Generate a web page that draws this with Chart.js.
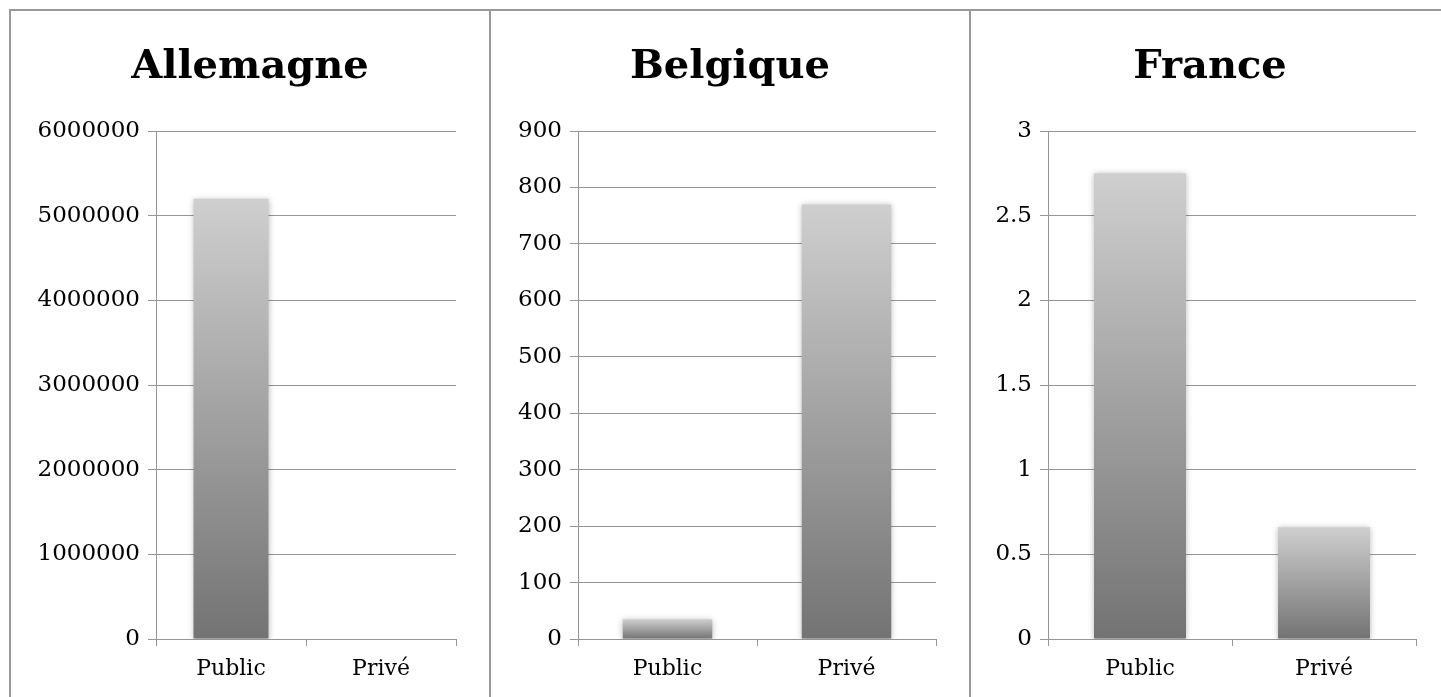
<!DOCTYPE html>
<html>
<head>
<meta charset="utf-8">
<script src="https://cdn.jsdelivr.net/npm/chart.js@4/dist/chart.umd.min.js"></script>
<style>
  html, body { margin: 0; padding: 0; background: #fff; overflow: hidden; }
  body { width: 1441px; height: 697px; position: relative; }
  .panel {
    position: absolute;
    top: 9px;
    width: 478px;
    height: 688px;
    border-left: 2px solid #999;
    border-top: 2px solid #999;
  }
  .panel canvas { display: block; }
</style>
</head>
<body>
<div class="panel" style="left:9px"><canvas id="c0"></canvas></div>
<div class="panel" style="left:489px"><canvas id="c1"></canvas></div>
<div class="panel" style="left:969px"><canvas id="c2"></canvas></div>

<script>
/* ================================
   Data
================================ */
const categories = ["Public", "Privé"];
const countries = ["Allemagne", "Belgique", "France"];

const allemagneValues = [5200000, 0];
const belgiqueValues = [35, 770];
const franceValues = [2.75, 0.66];

const yMax = [6000000, 900, 3];
const yStep = [1000000, 100, 0.5];

// left axis widths so the three plot areas line up like the sheet
const axisWidth = [145, 87, 77];

/* ================================
   Helpers
================================ */
const FONT = "'DejaVu Serif', serif";
const GRID = "#959595";

function barFill(context) {
  const chart = context.chart;
  if (!chart.chartArea || context.type !== "data") return "#999";
  const y = chart.scales.y;
  const top = y.getPixelForValue(context.parsed.y);
  const base = y.getPixelForValue(0);
  if (!isFinite(top) || Math.abs(base - top) < 1) return "#999";
  const g = chart.ctx.createLinearGradient(0, top, 0, base);
  g.addColorStop(0, "#cfcfcf");
  g.addColorStop(1, "#737373");
  return g;
}

// soft shadow round the bars
const barShadow = {
  id: "barShadow",
  beforeDatasetsDraw(chart) {
    const c = chart.ctx;
    c.save();
    c.shadowColor = "rgba(0,0,0,0.28)";
    c.shadowBlur = 6;
    c.shadowOffsetY = 1;
  },
  afterDatasetsDraw(chart) {
    chart.ctx.restore();
  }
};

/* ================================
   Chart builder
================================ */
function makeChart(idx, values) {
  const canvas = document.getElementById("c" + idx);
  canvas.width = 478;
  canvas.height = 686;

  return new Chart(canvas, {
    type: "bar",
    data: {
      labels: categories,
      datasets: [{
        data: values,
        backgroundColor: barFill,
        borderWidth: 0,
        barPercentage: 0.5,
        categoryPercentage: 1
      }]
    },
    options: {
      responsive: false,
      animation: false,
      layout: { padding: 0 },
      plugins: {
        legend: { display: false },
        tooltip: { enabled: false },
        title: {
          display: true,
          text: countries[idx],
          color: "#000",
          font: { family: FONT, size: 40, weight: "bold", lineHeight: 1.2 },
          padding: { top: 33, bottom: 39 }
        }
      },
      scales: {
        x: {
          grid: {
            offset: true,
            drawOnChartArea: false,
            color: GRID,
            tickLength: 7
          },
          border: { color: GRID, width: 1 },
          ticks: {
            color: "#000",
            font: { family: FONT, size: 22 },
            padding: 10
          },
          afterFit(s) { s.height = 58; }
        },
        y: {
          min: 0,
          max: yMax[idx],
          grid: { color: GRID, tickLength: 8 },
          border: { color: GRID, width: 1 },
          ticks: {
            stepSize: yStep[idx],
            color: "#000",
            font: { family: FONT, size: 23 },
            padding: 8,
            callback: v => String(v)
          },
          afterFit(s) { s.width = axisWidth[idx]; }
        },
        // empty right-hand axis, keeps the margin right of the plot
        yr: {
          position: "right",
          display: true,
          grid: { display: false },
          border: { display: false },
          ticks: { display: false },
          afterFit(s) { s.width = 33; }
        }
      }
    },
    plugins: [barShadow]
  });
}

makeChart(0, allemagneValues);
makeChart(1, belgiqueValues);
makeChart(2, franceValues);
</script>
</body>
</html>
